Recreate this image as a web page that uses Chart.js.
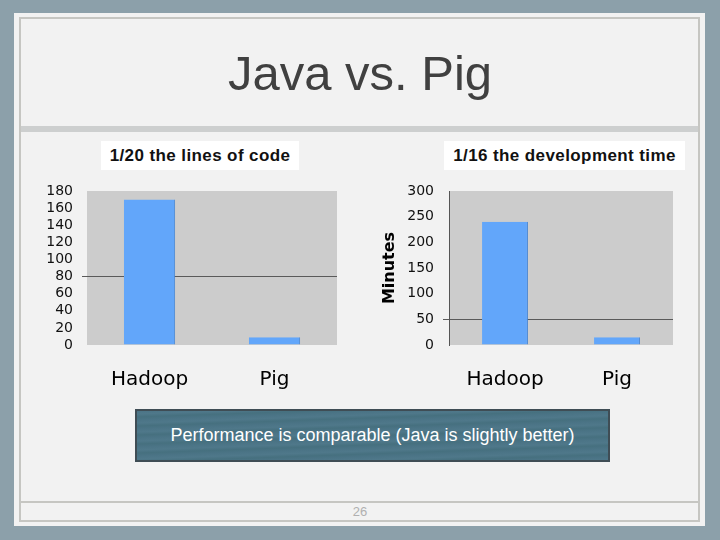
<!DOCTYPE html>
<html>
<head>
<meta charset="utf-8">
<script src="https://cdn.jsdelivr.net/npm/chart.js@4.4.1/dist/chart.umd.min.js"></script>
<style>
  html, body { margin: 0; padding: 0; }
  body { width: 720px; height: 540px; position: relative; overflow: hidden;
         background: #8ca0aa; font-family: 'Liberation Sans', Arial, sans-serif; }
  .abs { position: absolute; box-sizing: border-box; }
  #slide { left: 14px; top: 13px; width: 691px; height: 513px; background: #f2f2f2; }
  #frame { left: 19px; top: 17px; width: 681px; height: 505px; border: 2px solid #c6c6c2; }
  #band { left: 21px; top: 126px; width: 677px; height: 6px; background: #cdcfcf; }
  #footline { left: 21px; top: 501px; width: 677px; height: 2px; background: #c6c6c2; }
  #title { left: 0; top: 45px; width: 720px; height: 56px; line-height: 56px; text-align: center;
           font-size: 49px; color: #404040; }
  .ctitle { background: #fff; height: 29px; line-height: 29px; text-align: center;
            font-weight: bold; font-size: 17px; letter-spacing: 0.4px; color: #111; }
  #t1 { left: 101px; top: 141px; width: 198px; }
  #t2 { left: 444px; top: 141px; width: 241px; }
  .wrap { width: 315px; height: 215px; }
  #w1 { left: 30px; top: 180px; }
  #w2 { left: 370px; top: 180px; }
  #note { left: 135px; top: 409px; width: 475px; height: 53px; border: 2px solid #3f4d55;
          background: repeating-linear-gradient(178deg, #4b7486 0px, #4f788a 3px, #46707f 6px, #4b7486 9px);
          color: #fff; font-size: 18px; line-height: 49px; text-align: center; }
  #page { left: 0; top: 504px; width: 720px; height: 16px; line-height: 16px; text-align: center;
          font-size: 13px; color: #b0b0b0; }
</style>
</head>
<body>
<div class="abs" id="slide"></div>
<div class="abs" id="frame"></div>
<div class="abs" id="band"></div>
<div class="abs" id="footline"></div>
<div class="abs" id="title">Java vs. Pig</div>
<div class="abs ctitle" id="t1">1/20 the lines of code</div>
<div class="abs ctitle" id="t2">1/16 the development time</div>
<div class="abs wrap" id="w1"><canvas id="locChart"></canvas></div>
<div class="abs wrap" id="w2"><canvas id="timeChart"></canvas></div>
<div class="abs" id="note">Performance is comparable (Java is slightly better)</div>
<div class="abs" id="page">26</div>

<script>
// values
const categories = ['Hadoop', 'Pig'];
const linesOfCode = [170, 9];
const devMinutes = [240, 15];

const locMax = 180, locStep = 20, locGridAt = 80;
const timeMax = 300, timeStep = 50, timeGridAt = 50;

Chart.defaults.font.family = "'DejaVu Sans', Verdana, sans-serif";
Chart.defaults.color = '#111';

// grey plot background like the old excel charts
const plotBg = {
  id: 'plotBg',
  beforeDraw(chart) {
    const a = chart.chartArea, ctx = chart.ctx;
    ctx.save();
    ctx.fillStyle = '#cccccc';
    ctx.fillRect(a.left, a.top, a.right - a.left, a.bottom - a.top);
    ctx.restore();
  }
};

function barSet(data) {
  return {
    data: data,
    backgroundColor: '#62a6fa',
    borderColor: '#4a86d2',
    borderWidth: { top: 0, left: 0, bottom: 0, right: 1 },
    borderSkipped: false,
    barPercentage: 0.41,
    categoryPercentage: 1
  };
}

function buildChart(id, data, yMax, yStep, gridAt, opts) {
  const ctx = document.getElementById(id).getContext('2d');
  return new Chart(ctx, {
    type: 'bar',
    data: { labels: categories, datasets: [barSet(data)] },
    plugins: [plotBg],
    options: {
      responsive: true,
      maintainAspectRatio: false,
      animation: false,
      layout: { padding: { top: 11, right: opts.padRight, bottom: 0, left: 0 } },
      plugins: { legend: { display: false }, tooltip: { enabled: false } },
      scales: {
        x: {
          grid: { display: false, drawTicks: false },
          border: { display: false },
          ticks: { color: '#000', font: { size: 20 }, padding: 23 },
          afterFit: s => { s.height = 50; }
        },
        y: {
          min: 0,
          max: yMax,
          ticks: { stepSize: yStep, autoSkip: false, color: '#111', font: { size: 14 }, padding: 9 },
          grid: {
            color: c => c.tick && c.tick.value === gridAt ? '#5a5a5a' : 'transparent',
            tickLength: opts.tickLen
          },
          border: { display: opts.axisLine, color: '#555' },
          title: opts.title,
          afterFit: s => {
            s.width = opts.axisWidth;
            s.paddingTop = 0;
            s.paddingBottom = 0;
          }
        }
      }
    }
  });
}

buildChart('locChart', linesOfCode, locMax, locStep, locGridAt, {
  padRight: 8, tickLen: 5, axisLine: false, axisWidth: 57, title: { display: false }
});

buildChart('timeChart', devMinutes, timeMax, timeStep, timeGridAt, {
  padRight: 12, tickLen: 6, axisLine: true, axisWidth: 79,
  title: { display: true, text: 'Minutes', color: '#000',
           font: { size: 16, weight: 'bold' }, padding: { top: 10, bottom: 0 } }
});
</script>
</body>
</html>
